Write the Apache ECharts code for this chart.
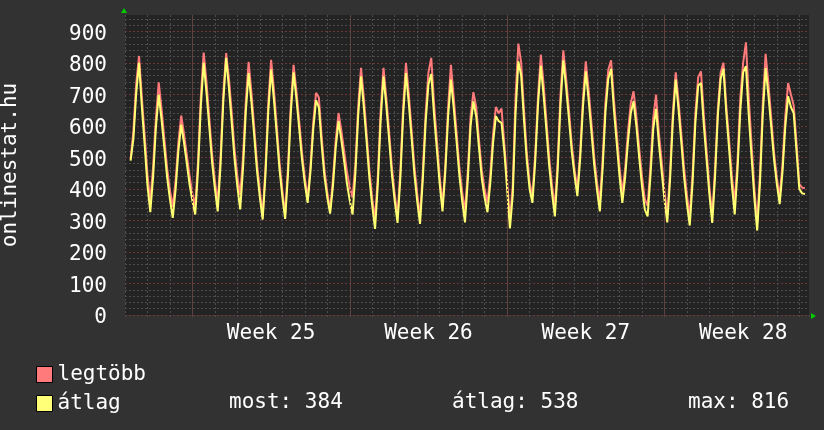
<!DOCTYPE html>
<html>
<head>
<meta charset="utf-8">
<script src="https://cdn.jsdelivr.net/npm/echarts@6/dist/echarts.min.js"></script>
<style>
  html, body { margin: 0; padding: 0; background: #323232; }
  #chart { width: 824px; height: 430px; }
</style>
</head>
<body>
<div id="chart"></div>
<script>
  // one row per day, first row = Friday before week 25; samples at these hours
  var sampleHours = [0, 3, 6, 9, 12, 15, 18, 21]
  var firstDay = -3 // days relative to Monday of week 25

  var legtobbDays = [
    [null, null, 495, 585, 735, 822, 690, 570],
    [445, 361, 470, 625, 738, 655, 560, 465],
    [395, 343, 425, 548, 633, 575, 508, 440],
    [385, 346, 490, 695, 833, 740, 625, 510],
    [425, 357, 502, 705, 831, 750, 640, 525],
    [440, 381, 500, 680, 803, 705, 595, 480],
    [395, 314, 470, 675, 810, 715, 600, 485],
    [395, 320, 468, 665, 794, 712, 615, 515],
    [435, 372, 472, 612, 705, 690, 565, 460],
    [390, 333, 430, 555, 641, 585, 520, 455],
    [405, 373, 480, 662, 784, 690, 575, 458],
    [370, 302, 445, 650, 784, 690, 582, 468],
    [383, 313, 458, 662, 800, 702, 588, 472],
    [385, 313, 455, 640, 770, 816, 670, 555],
    [440, 345, 475, 660, 794, 690, 580, 470],
    [390, 329, 455, 630, 707, 660, 555, 458],
    [398, 356, 445, 575, 660, 640, 655, 545],
    [425, 302, 410, 690, 861, 800, 650, 515],
    [420, 377, 510, 695, 826, 730, 615, 498],
    [410, 340, 490, 700, 840, 752, 650, 542],
    [462, 397, 518, 688, 805, 715, 610, 502],
    [420, 361, 495, 675, 778, 808, 685, 578],
    [470, 387, 465, 580, 672, 710, 630, 530],
    [440, 368, 346, 470, 625, 699, 580, 488],
    [392, 318, 455, 645, 770, 680, 575, 465],
    [380, 313, 448, 640, 755, 773, 635, 520],
    [405, 318, 462, 655, 770, 800, 665, 555],
    [440, 356, 490, 690, 800, 865, 690, 540],
    [400, 294, 450, 675, 829, 735, 625, 515],
    [435, 374, 478, 630, 736, 700, 665, 545],
    [415, 404, 403, null, null, null, null, null]
  ]

  var atlagDays = [
    [null, null, 490, 560, 705, 800, 660, 540],
    [411, 326, 438, 595, 699, 621, 531, 437],
    [367, 308, 397, 521, 604, 547, 481, 413],
    [362, 319, 463, 665, 800, 706, 597, 484],
    [400, 329, 475, 680, 816, 720, 609, 494],
    [407, 335, 465, 647, 768, 675, 568, 456],
    [373, 303, 446, 646, 779, 684, 575, 461],
    [376, 305, 445, 640, 770, 687, 592, 493],
    [418, 356, 454, 590, 681, 660, 540, 438],
    [373, 322, 408, 532, 615, 556, 488, 417],
    [363, 319, 450, 634, 757, 660, 549, 433],
    [346, 273, 418, 621, 757, 664, 557, 445],
    [362, 292, 435, 635, 768, 672, 562, 447],
    [361, 289, 432, 613, 732, 765, 634, 525],
    [416, 329, 454, 630, 747, 656, 552, 443],
    [362, 294, 428, 601, 678, 630, 530, 432],
    [372, 326, 418, 546, 631, 615, 610, 520],
    [400, 275, 380, 640, 805, 760, 620, 490],
    [400, 356, 487, 669, 791, 695, 585, 471],
    [385, 313, 462, 669, 808, 722, 623, 519],
    [442, 377, 496, 662, 773, 684, 582, 476],
    [396, 329, 465, 645, 750, 781, 653, 547],
    [441, 356, 437, 549, 640, 678, 600, 500],
    [410, 335, 313, 440, 590, 654, 546, 456],
    [366, 294, 430, 620, 747, 654, 548, 437],
    [353, 284, 420, 610, 728, 736, 603, 492],
    [381, 292, 439, 634, 750, 781, 642, 527],
    [411, 319, 460, 650, 770, 790, 633, 502],
    [371, 268, 421, 639, 784, 697, 597, 493],
    [415, 352, 453, 598, 694, 660, 640, 520],
    [400, 386, 384, null, null, null, null, null]
  ]

  var weekStarts = [0, 7, 14, 21]
  var weekLabelPos = [3.5, 10.5, 17.5, 24.5]
  var weekLabels = ['Week 25', 'Week 26', 'Week 27', 'Week 28']
  var statLabels = ['most: 384', 'átlag: 538', 'max: 816']

  var FONT = 'DejaVu Sans Mono'
  var GRAY = '#4c4c4c'
  var DARKRED = '#6e3636'

  function toPoints(days) {
    var out = []
    days.forEach(function (row, i) {
      row.forEach(function (v, j) {
        if (v == null) return
        out.push([firstDay + i + sampleHours[j] / 24, v])
      })
    })
    return out
  }

  var chart = echarts.init(document.getElementById('chart'))
  chart.setOption({
    backgroundColor: '#323232',
    animation: false,
    textStyle: {fontFamily: FONT},
    grid: {
      left: 125,
      top: 15,
      width: 684,
      height: 300,
      containLabel: false,
      outerBoundsMode: 'none',
      show: true,
      backgroundColor: '#232323',
      borderWidth: 0
    },
    legend: {
      orient: 'vertical',
      left: 31,
      top: 359,
      itemWidth: 16,
      itemHeight: 16,
      itemGap: 8,
      icon: 'rect',
      itemStyle: {borderColor: '#000', borderWidth: 1},
      textStyle: {color: '#fff', fontSize: 21, fontFamily: FONT, padding: [0, 0, 0, 0]},
      data: ['legtöbb', 'átlag']
    },
    xAxis: [{
      type: 'value',
      min: firstDay,
      max: 27.43,
      interval: 1,
      axisLine: {show: false},
      axisTick: {show: true, length: 2, lineStyle: {color: GRAY}},
      axisLabel: {show: false},
      splitLine: {show: true, showMaxLine: false, lineStyle: {color: GRAY, type: [2, 2]}}
    }, {
      type: 'value',
      position: 'bottom',
      min: firstDay,
      max: 27.43,
      axisLine: {show: false},
      axisTick: {show: false},
      axisLabel: {
        show: true,
        customValues: weekLabelPos,
        margin: 8,
        color: '#fff',
        fontSize: 21,
        fontFamily: FONT,
        formatter: function (v) {
          return weekLabels[Math.floor(v / 7)]
        }
      },
      splitLine: {show: false}
    }],
    yAxis: [{
      type: 'value',
      min: 0,
      max: 952,
      interval: 20,
      axisLine: {show: false},
      axisTick: {show: false},
      axisLabel: {show: false},
      splitLine: {show: true, showMaxLine: false, lineStyle: {color: GRAY, type: [2, 2]}}
    }, {
      type: 'value',
      position: 'left',
      min: 0,
      max: 952,
      interval: 100,
      name: 'onlinestat.hu',
      nameLocation: 'middle',
      nameRotate: 90,
      nameGap: 104,
      nameTextStyle: {color: '#fff', fontSize: 21, fontFamily: FONT},
      axisLine: {show: false},
      axisTick: {show: false},
      axisLabel: {
        color: '#fff',
        fontSize: 21,
        fontFamily: FONT,
        margin: 18,
        showMaxLabel: false,
        formatter: function (v) {
          return '{n|' + v + '}'
        },
        rich: {
          n: {color: '#fff', fontSize: 21, fontFamily: FONT, padding: [6, 0, 0, 0]}
        }
      },
      splitLine: {show: true, showMaxLine: false, lineStyle: {color: DARKRED, type: [2, 2]}}
    }],
    series: [{
      name: 'legtöbb',
      type: 'line',
      xAxisIndex: 0,
      yAxisIndex: 0,
      symbol: 'none',
      color: '#ff7a7a',
      lineStyle: {width: 2, color: '#ff7a7a'},
      markLine: {
        silent: true,
        symbol: 'none',
        label: {show: false},
        lineStyle: {color: DARKRED, type: [2, 2], width: 1},
        data: weekStarts.map(function (d) { return {xAxis: d} })
      },
      z: 2,
      data: toPoints(legtobbDays)
    }, {
      name: 'átlag',
      type: 'line',
      xAxisIndex: 0,
      yAxisIndex: 0,
      symbol: 'none',
      color: '#ffff78',
      lineStyle: {width: 2, color: '#ffff72'},
      z: 3,
      data: toPoints(atlagDays)
    }],
    graphic: [
      {type: 'polygon', shape: {points: [[121, 13], [127, 13], [124, 8]]}, style: {fill: '#00cc00'}},
      {type: 'polygon', shape: {points: [[811, 313], [811, 319], [816, 316]]}, style: {fill: '#00cc00'}},
      {type: 'text', left: 229, top: 392, style: {text: statLabels[0], fill: '#fff', font: '21px "DejaVu Sans Mono"'}},
      {type: 'text', left: 452, top: 392, style: {text: statLabels[1], fill: '#fff', font: '21px "DejaVu Sans Mono"'}},
      {type: 'text', left: 688, top: 392, style: {text: statLabels[2], fill: '#fff', font: '21px "DejaVu Sans Mono"'}}
    ]
  })
</script>
</body>
</html>
